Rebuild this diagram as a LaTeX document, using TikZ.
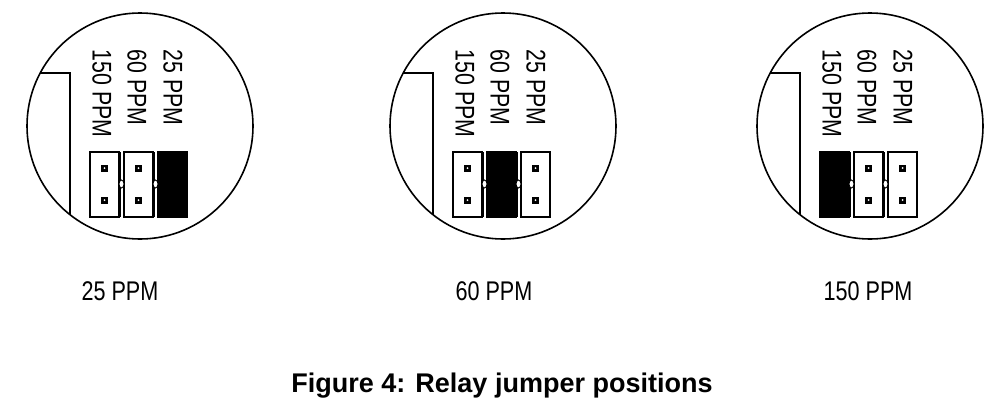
\documentclass[tikz,border=0pt]{standalone}
\usepackage{fontspec}
\setmainfont{Liberation Sans}
\begin{document}
\begin{tikzpicture}[x=1pt,y=-1pt,line width=1.6pt,
  lab/.style={font=\fontsize{27}{27}\selectfont,inner sep=0},
  blk/.style={draw,line width=1.3pt},
  on/.style={blk,fill=black}]
\useasboundingbox (0,0) rectangle (989,408);
\foreach \dx/\f [count=\i] in {0/3,363/2,730/1}{
\begin{scope}[shift={(\dx,0)}]
  \node[circle,draw,minimum size=226pt,inner sep=0,line width=1.6pt] (c\i) at (140,126) {};
  \begin{scope}
    \clip (140,126) circle (113);
    \draw[line width=1.4pt] (20,73) -- (70,73) -- (70,250);
  \end{scope}
  \node[lab,rotate=-90,anchor=west] (a\i) at (102,49) {\scalebox{0.79}[1]{150 PPM}};
  \node[lab,rotate=-90,anchor=west] (b\i) at (137,49) {\scalebox{0.79}[1]{60 PPM}};
  \node[lab,rotate=-90,anchor=west] (d\i) at (173,49) {\scalebox{0.79}[1]{25 PPM}};
  \foreach \x/\k in {90/1,124/2,158/3}{
    \ifnum\k=\f
      \draw[on] (\x,152) rectangle ++(29,65);
    \else
      \draw[blk] (\x,152) rectangle ++(29,65);
      \foreach \y in {168,200}{
        \fill (\x+14.5,\y) ++(-3.5,-3.5) rectangle ++(7,7);
        \fill[white] (\x+14.5,\y) circle (1);}
    \fi
  }
  \foreach \x in {121.5,155.5}{
    \draw[line width=0.9pt] (\x-1.5,152) -- (\x-1.5,217) (\x+1.5,152) -- (\x+1.5,217);
    \draw[line width=0.9pt,fill=white] (\x,184) ellipse (2.5 and 4);
  }
\end{scope}}
\node[lab] (l1) at (120,291) {\scalebox{0.8}[1]{25 PPM}};
\node[lab] (l2) at (494,291) {\scalebox{0.8}[1]{60 PPM}};
\node[lab] (l3) at (868,291) {\scalebox{0.8}[1]{150 PPM}};
\node[lab,font=\fontsize{27}{27}\selectfont\bfseries] (cap) at (502,386) {Figure 4: Relay jumper positions};
\end{tikzpicture}
\end{document}
